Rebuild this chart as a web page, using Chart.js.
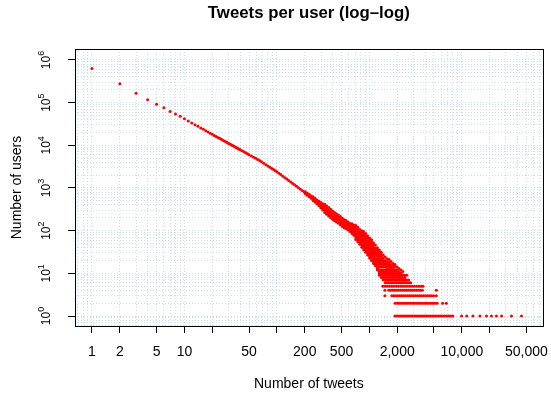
<!DOCTYPE html>
<html>
<head>
<meta charset="utf-8">
<script src="https://cdn.jsdelivr.net/npm/chart.js@4"></script>
<style>
  body { margin: 0; background: #fff; }
  canvas { display: block; }
</style>
</head>
<body>
<canvas id="myChart" width="551" height="393"></canvas>
<script>
// main curve (one point per tweet count)
const curveTweets = [1, 2, 3, 4, 5, 6, 7, 8, 9, 10, 11, 12, 13, 14, 15, 16, 17, 18, 19, 20,
  21, 22, 23, 24, 25, 26, 27, 28, 29, 30, 31, 32, 33, 34, 35, 36, 37, 38, 39, 40,
  42, 44, 46, 48, 50, 53, 56, 59, 62, 65, 68, 72, 76, 80, 84, 88, 92, 96, 100,
  105, 110, 116, 122, 128, 134, 141, 148, 155, 163, 171, 180, 189, 198, 208, 218, 229, 240, 252,
  265, 278, 292, 306, 321, 337, 354, 372, 390, 410, 430, 452, 474, 498, 523, 549,
  576, 605, 635, 667, 700, 735, 772, 810, 850, 893, 937, 984, 1033, 1085,
  1140, 1197, 1257, 1320, 1386, 1455, 1528, 1604, 1684, 1768, 1856, 1950, 2047, 2150, 2260, 2370];
const curveUsers = [630000, 276000, 166000, 117000, 92000, 76000, 62000, 54000, 48000, 42000,
  37200, 33500, 30400, 27900, 25600, 23700, 22100, 20600, 19300, 18100,
  17100, 16200, 15300, 14600, 13900, 13200, 12700, 12100, 11600, 11100,
  10700, 10300, 9950, 9600, 9270, 8960, 8670, 8400, 8140, 7890,
  7450, 7040, 6680, 6350, 6040, 5640, 5280, 4950, 4670, 4390, 4120, 3800, 3520, 3280, 3060, 2870, 2700, 2540, 2400,
  2220, 2060, 1890, 1750, 1620, 1500, 1380, 1280, 1190, 1100, 1020, 937, 867, 804, 743, 689, 637, 591, 547,
  498, 456, 416, 381, 349, 319, 291, 266, 243, 222, 205, 195, 178, 163, 150, 138,
  128, 117, 106, 96, 87, 79, 71, 63, 57, 51, 45, 41, 38, 34,
  31, 28, 25, 22, 20, 18, 16, 15, 13, 12, 11, 10, 9, 8, 7, 7];

// scatter around the curve in the tail
const cloudTweets = [203, 213, 224, 235, 246, 258, 271, 285, 299, 313, 329, 345, 363, 381, 400, 420, 441, 463, 486, 510, 536,
  560, 588, 617, 648, 680, 714, 750, 788, 827, 868, 912, 957, 1005, 1055, 1108, 1163,
  1221, 1282, 1346, 1414, 1484, 1558, 1636, 1718, 1804, 1894, 1989, 2088, 2193, 2302, 2417, 2538, 2665, 2798];
const cloudUsers = [
  [736, 814], [672, 758], [620, 700], [575, 649],
  [511, 540, 596, 625], [472, 499, 551, 578], [430, 454, 502, 526], [384, 410, 462, 488],
  [342, 370, 426, 458], [307, 336, 394, 427], [267, 301, 367, 418], [244, 275, 336, 381],
  [222, 250, 306, 348], [203, 229, 279, 318], [186, 209, 255, 290], [170, 192, 234, 266],
  [160, 180, 220, 250], [150, 168, 206, 234], [137, 154, 188, 214], [126, 141, 173, 196],
  [116, 131, 160, 181],
  [112, 122, 133, 145, 158, 172],
  [104, 113, 123, 134, 146, 160],
  [95, 104, 113, 123, 134, 147],
  [86, 94, 103, 112, 122, 134, 146],
  [78, 86, 94, 103, 113, 124, 136],
  [62, 69, 77, 86, 96, 107, 120, 133],
  [55, 61, 68, 76, 85, 95, 106, 120],
  [48, 53, 59, 66, 74, 83, 93, 106],
  [41, 46, 51, 57, 64, 71, 80, 90, 100],
  [35, 39, 44, 49, 55, 61, 68, 76, 85, 95],
  [31, 35, 39, 43, 48, 54, 60, 67, 75, 86],
  [27, 30, 34, 38, 42, 47, 53, 59, 66, 76],
  [23, 26, 29, 32, 36, 40, 45, 50, 56, 62, 67],
  [20, 22, 25, 28, 31, 35, 39, 44, 49, 55, 61],
  [17, 19, 21, 24, 27, 30, 33, 37, 41, 46, 52],
  [15, 16, 18, 20, 22, 25, 28, 31, 35, 39, 46],
  [12, 13, 14, 16, 18, 20, 22, 25, 28, 31, 35, 40],
  [9, 10, 11, 12, 14, 16, 18, 20, 22, 25, 28, 31, 35],
  [8, 9, 10, 11, 12, 14, 16, 18, 20, 22, 25, 28, 31],
  [7, 8, 9, 10, 11, 12, 14, 16, 18, 20, 23, 27],
  [6, 7, 8, 9, 10, 11, 12, 14, 16, 18, 20, 24],
  [6, 7, 8, 9, 10, 11, 12, 13, 15, 17, 19, 22],
  [6, 7, 8, 9, 10, 11, 12, 14, 16, 18, 21],
  [6, 7, 8, 9, 10, 11, 12, 14, 16, 19],
  [6, 7, 8, 9, 10, 11, 12, 13, 15, 17],
  [6, 7, 8, 9, 10, 11, 12, 14, 16],
  [6, 7, 8, 9, 10, 11, 12, 14],
  [6, 7, 8, 9, 10, 11, 13],
  [6, 7, 8, 9, 10, 12],
  [6, 7, 8, 9, 11],
  [6, 7, 8, 9],
  [6, 7, 9],
  [6, 7],
  [6]];

// users counts 1..5 form horizontal rows
const rowUsers = [1, 2, 3, 4, 5];
const rowTweets = [
  [1890, 1990, 2090, 2200, 2310, 2430, 2550, 2680, 2820, 2960, 3110, 3270, 3440, 3610, 3800, 3990, 4190, 4400,
    4630, 4860, 5110, 5370, 5640, 5930, 6230, 6550, 6880, 7230, 7600, 7990,
    9930, 11300, 13200, 15700, 18500, 20900, 23700, 26900, 34400, 44200],
  [1900, 2000, 2100, 2210, 2320, 2440, 2560, 2690, 2830, 2970, 3120, 3280, 3450, 3620, 3800, 4000, 4200, 4410,
    4640, 4870, 5120, 5400, 6200, 6800],
  [1470, 1750, 1840, 1930, 2030, 2130, 2240, 2350, 2470, 2600, 2730, 2870, 3010, 3170, 3330, 3500, 3670, 3860,
    4060, 4260, 4480, 4710, 4950, 5300],
  [1470, 1620, 1700, 1790, 1880, 1970, 2070, 2180, 2290, 2400, 2530, 2650, 2790, 2930, 3080, 3240, 3400, 3570,
    3750, 5300],
  [1400, 1480, 1560, 1650, 1740, 1840, 1950, 2060, 2180, 2300, 2440, 2580, 2730, 2890, 3060, 3240, 3430, 3630, 3800]];

// axes
const xMarks = [1, 2, 5, 10, 20, 50, 100, 200, 500, 1000, 2000, 5000, 10000, 20000, 50000];
const xLabelled = [1, 2, 5, 10, 50, 200, 500, 2000, 10000, 50000];
const yExponents = [0, 1, 2, 3, 4, 5, 6];
const yMarks = yExponents.map((e) => 10 ** e);

const points = [];
curveTweets.forEach((t, i) => points.push({ x: t, y: curveUsers[i] }));
cloudTweets.forEach((t, i) => cloudUsers[i].forEach((u) => points.push({ x: t, y: u })));
rowUsers.forEach((u, i) => rowTweets[i].forEach((t) => points.push({ x: t, y: u })));

const gridBlue = "#cddff2";
const family = "'Liberation Sans', Arial, sans-serif";
const font = { family: family, size: 14 };

// grid at 1..9 x 10^k inside the range
function logTicks(scale) {
  const ticks = [];
  for (let k = -1; k <= 6; k++) {
    for (let m = 1; m <= 9; m++) {
      const v = Number((m * 10 ** k).toPrecision(3));
      if (v >= scale.min && v <= scale.max) ticks.push({ value: v });
    }
  }
  scale.ticks = ticks;
}

const frame = {
  id: "frame",
  afterDraw(chart) {
    const { ctx, chartArea: a, scales: { y } } = chart;
    ctx.save();
    ctx.strokeStyle = "#000";
    ctx.lineWidth = 1;
    ctx.strokeRect(Math.round(a.left) + 0.5, Math.round(a.top) + 0.5,
      Math.round(a.right - a.left), Math.round(a.bottom - a.top));

    const baseFont = "12px " + family;
    const supFont = "9px " + family;
    ctx.fillStyle = "#000";
    ctx.textAlign = "left";
    ctx.textBaseline = "alphabetic";
    yExponents.forEach((e) => {
      const py = y.getPixelForValue(10 ** e);
      ctx.font = baseFont;
      const w1 = ctx.measureText("10").width;
      ctx.font = supFont;
      const w2 = ctx.measureText(String(e)).width;
      ctx.save();
      ctx.translate(a.left - 25, py);
      ctx.rotate(-Math.PI / 2);
      ctx.font = baseFont;
      ctx.fillText("10", -(w1 + w2) / 2, 0);
      ctx.font = supFont;
      ctx.fillText(String(e), -(w1 + w2) / 2 + w1, -6);
      ctx.restore();
    });
    ctx.restore();
  },
};

const ctx = document.getElementById("myChart").getContext("2d");
new Chart(ctx, {
  type: "scatter",
  data: {
    datasets: [
      {
        data: points,
        backgroundColor: "#ff0000",
        borderWidth: 0,
        pointRadius: 1.5,
        pointHoverRadius: 1.5,
      },
    ],
  },
  options: {
    responsive: false,
    animation: false,
    events: [],
    layout: { padding: { left: 0, right: 8, top: 0, bottom: 0 } },
    plugins: {
      legend: { display: false },
      tooltip: { enabled: false },
      title: {
        display: true,
        text: "Tweets per user (log\u2013log)",
        color: "#000",
        fullSize: false,
        font: { family: family, size: 16.8, weight: "bold", lineHeight: "17px" },
        padding: { top: 5, bottom: 27 },
      },
    },
    scales: {
      x: {
        type: "logarithmic",
        min: 0.655,
        max: 75000,
        afterBuildTicks: logTicks,
        afterFit: (scale) => { scale.height = 67; },
        border: { display: false, dash: [1, 2] },
        grid: {
          color: gridBlue,
          lineWidth: 1,
          tickLength: 7,
          tickWidth: 1,
          tickColor: (c) => (xMarks.includes(c.tick.value) ? "#000" : "rgba(0,0,0,0)"),
        },
        ticks: {
          autoSkip: false,
          maxRotation: 0,
          minRotation: 0,
          padding: 11,
          color: "#000",
          font: font,
          callback: (v) => (xLabelled.includes(v) ? v.toLocaleString("en-US") : ""),
        },
        title: {
          display: true,
          text: "Number of tweets",
          color: "#000",
          font: font,
          padding: { top: 0, bottom: 0 },
        },
      },
      y: {
        type: "logarithmic",
        min: 0.583,
        max: 1810000,
        afterBuildTicks: logTicks,
        afterFit: (scale) => { scale.width = 75; },
        border: { display: false, dash: [1, 2] },
        grid: {
          color: gridBlue,
          lineWidth: 1,
          tickLength: 7,
          tickWidth: 1,
          tickColor: (c) => (yMarks.includes(c.tick.value) ? "#000" : "rgba(0,0,0,0)"),
        },
        ticks: { display: false, autoSkip: false },
        title: {
          display: true,
          text: "Number of users",
          color: "#000",
          font: font,
          padding: { top: 9, bottom: 0 },
        },
      },
    },
  },
  plugins: [frame],
});
</script>
</body>
</html>
